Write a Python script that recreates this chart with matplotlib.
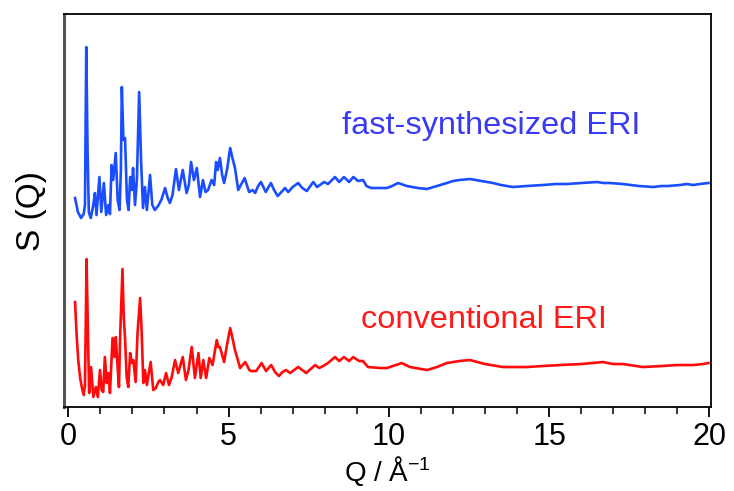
import numpy as np
import matplotlib
matplotlib.use("Agg")
import matplotlib.pyplot as plt
from matplotlib.ticker import MultipleLocator

plt.rcParams['font.family'] = ['Liberation Sans', 'DejaVu Sans']
plt.rcParams['mathtext.fontset'] = 'custom'
plt.rcParams['mathtext.rm'] = 'Liberation Sans'
plt.rcParams['mathtext.it'] = 'Liberation Sans'

# fast-synthesized ERI (offset curve, arbitrary units)
q_fast = [0.21, 0.30, 0.40, 0.48, 0.52, 0.56, 0.60, 0.64, 0.70, 0.78,
          0.83, 0.88, 0.97, 1.03, 1.11, 1.18, 1.25, 1.30, 1.35, 1.40,
          1.48, 1.54, 1.60, 1.64, 1.67, 1.72, 1.77, 1.83, 1.88, 1.93,
          1.98, 2.02, 2.08, 2.14, 2.21, 2.27, 2.33, 2.39, 2.45, 2.55,
          2.62, 2.70, 2.80, 2.90, 3.02, 3.10, 3.17, 3.25, 3.36, 3.45,
          3.57, 3.69, 3.76, 3.83, 3.92, 4.01, 4.11, 4.20, 4.28, 4.36,
          4.47, 4.55, 4.61, 4.66, 4.73, 4.80, 4.86, 4.95, 5.05, 5.12,
          5.20, 5.30, 5.40, 5.50, 5.64, 5.75, 5.83, 5.92, 6.01, 6.16,
          6.32, 6.42, 6.53, 6.65, 6.76, 6.86, 7.00, 7.17, 7.30, 7.44,
          7.64, 7.76, 7.98, 8.10, 8.32, 8.45, 8.60, 8.76, 8.89, 9.04,
          9.20, 9.30, 9.45, 9.73, 9.94, 10.10, 10.29, 10.56, 10.90, 11.19,
          11.50, 11.81, 12.00, 12.20, 12.53, 12.90, 13.25, 13.50, 13.87, 14.30,
          14.81, 15.20, 15.56, 16.00, 16.50, 16.70, 16.90, 17.30, 17.80, 18.25,
          18.50, 18.70, 19.08, 19.30, 19.50, 19.70, 19.97]
s_fast = [208, 194, 188, 192, 201, 359, 256, 194, 188, 201,
          213, 191, 229, 194, 223, 191, 201, 192, 241, 226,
          253, 206, 196, 236, 319, 266, 268, 206, 196, 229,
          216, 238, 201, 226, 314, 246, 198, 219, 196, 231,
          201, 196, 200, 206, 218, 208, 203, 211, 237, 216,
          236, 213, 221, 244, 226, 238, 209, 226, 214, 216,
          226, 221, 244, 236, 248, 231, 223, 236, 258, 248,
          238, 216, 222, 228, 214, 216, 213, 220, 224, 214,
          223, 216, 210, 214, 218, 214, 219, 223, 218, 215,
          224, 219, 224, 222, 229, 224, 229, 224, 229, 225,
          226, 220, 218, 218, 218, 220, 223, 220, 218, 217,
          220, 223, 225, 226, 227, 225, 223, 221, 219, 220,
          221, 222, 222, 223, 224, 223, 223, 222, 220, 219,
          220, 220, 221, 222, 221, 222, 223]

# conventional ERI
q_conv = [0.21, 0.26, 0.31, 0.37, 0.42, 0.48, 0.52, 0.57, 0.61, 0.65,
          0.71, 0.78, 0.86, 0.92, 0.99, 1.04, 1.09, 1.14, 1.20, 1.25,
          1.30, 1.38, 1.44, 1.48, 1.53, 1.58, 1.62, 1.69, 1.73, 1.77,
          1.82, 1.87, 1.93, 1.98, 2.03, 2.10, 2.16, 2.24, 2.29, 2.34,
          2.39, 2.45, 2.57, 2.65, 2.73, 2.81, 2.86, 2.96, 3.05, 3.14,
          3.22, 3.33, 3.43, 3.57, 3.67, 3.75, 3.85, 3.95, 4.06, 4.13,
          4.21, 4.30, 4.40, 4.50, 4.63, 4.68, 4.73, 4.80, 4.86, 4.95,
          5.05, 5.12, 5.20, 5.36, 5.52, 5.65, 5.70, 5.86, 6.03, 6.17,
          6.33, 6.45, 6.57, 6.68, 6.79, 6.92, 7.17, 7.30, 7.42, 7.70,
          7.83, 7.95, 8.10, 8.32, 8.45, 8.60, 8.76, 8.89, 9.07, 9.19,
          9.35, 9.73, 9.94, 10.40, 10.66, 11.19, 11.50, 11.81, 12.20, 12.53,
          13.00, 13.56, 14.30, 14.80, 15.34, 16.00, 16.68, 17.00, 17.30, 17.93,
          18.50, 18.99, 19.50, 19.80, 19.97]
s_conv = [104, 71, 46, 28, 19, 11, 21, 147, 76, 13,
          39, 9, 19, 9, 36, 16, 14, 49, 23, 33,
          13, 68, 49, 69, 43, 19, 73, 137, 89, 68,
          29, 19, 53, 43, 46, 24, 73, 108, 73, 23,
          36, 21, 44, 16, 18, 24, 26, 21, 33, 21,
          28, 46, 33, 49, 26, 36, 59, 28, 53, 28,
          46, 28, 48, 41, 66, 59, 59, 51, 44, 61,
          78, 68, 56, 38, 44, 36, 35, 35, 43, 35,
          41, 34, 30, 34, 36, 33, 39, 36, 33, 41,
          38, 40, 43, 49, 45, 49, 45, 49, 45, 45,
          39, 38, 38, 43, 39, 36, 39, 43, 45, 46,
          42, 39, 39, 40, 41, 42, 44, 42, 42, 39,
          40, 41, 41, 42, 43]

labels = ["fast-synthesized ERI", "conventional ERI"]
x_ticks = [0, 5, 10, 15, 20]

fig = plt.figure(figsize=(7.34, 4.91), dpi=100)
ax = fig.add_axes([0.0872, 0.171, 0.8815, 0.8005])

ax.plot(q_fast, s_fast, color='#1a4dff', lw=1.9)
ax.plot(q_conv, s_conv, color='#ff0a0a', lw=1.9)

ax.text(13.19, 280, labels[0], color='#3a3af5', fontsize=23.4, ha='center', va='center')
ax.text(12.98, 86, labels[1], color='#ff1a1a', fontsize=23.4, ha='center', va='center')

ax.set_xlim(-0.134, 20.05)
ax.set_ylim(-1, 392)
ax.set_xticks(x_ticks)
ax.xaxis.set_minor_locator(MultipleLocator(1))
ax.set_yticks([])
ax.tick_params(axis='x', which='major', direction='out', length=7, width=1.3, labelsize=22, pad=4)
ax.tick_params(axis='x', which='minor', direction='out', length=5, width=1.1)

for side in ['top', 'right', 'bottom']:
    ax.spines[side].set_color('black')
    ax.spines[side].set_linewidth(1.3)
ax.spines['left'].set_color('#555555')
ax.spines['left'].set_linewidth(2.2)

ax.set_xlabel('Q / Å$^{-1}$', fontsize=20, labelpad=1)
ax.set_ylabel('S (Q)', fontsize=24, labelpad=12)

fig.savefig('out.png', dpi=100)
